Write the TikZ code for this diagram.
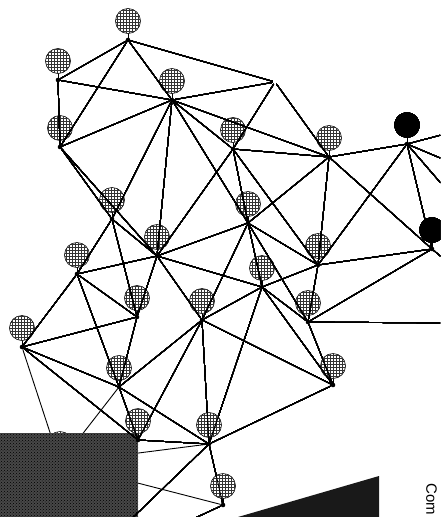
\documentclass[tikz,border=0pt]{standalone}
\usepackage{fontspec}
\setsansfont{Liberation Sans}
\usetikzlibrary{patterns}
\tikzset{
  mote/.style={circle,inner sep=0pt,minimum size=4.5pt},
  link/.style={line width=0.9pt},
  ball/.style={draw=black,line width=0.6pt,fill=white,postaction={pattern=grid,pattern color=black!80}},
  darkball/.style={draw=black,fill=black},
}
\newcommand{\balloon}[2][ball]{%
  \draw[line width=0.9pt] (#2.center) -- ([yshift=8pt]#2.center);
  \path[#1] ([yshift=19pt]#2.center) circle[radius=12.5pt];}

\begin{document}
\begin{tikzpicture}[x=1pt,y=-1pt]
  \useasboundingbox (0,0) rectangle (440,517);
  \clip (0,0) rectangle (440,517);
  % sensor positions
  \foreach \n/\x/\y in {a/128/40, b/58/80, c/172/100, d/60/147, p/275/82,
      e/233/149, f/329/157, g/407/144, m/112/219, h/248/223, n/157/256,
      i/318/265, j/432/249, o/77/274, k/262/287, q/137/317, s/202/320,
      l/308/322, r/22/347, t/119/387, x/333/385, u/138/440, v/209/444,
      w/223/505, y/60/463}
    \node[mote] (\n) at (\x,\y) {};
  % links leaving the frame
  \coordinate (g1) at (445,134);
  \coordinate (g2) at (445,160);
  \coordinate (g3) at (445,188);
  \coordinate (jr) at (445,260);
  \coordinate (lr) at (445,323);
  \coordinate (vb) at (122,528);
  \coordinate (wb) at (180,525);
  % hidden sensor behind the block
  \balloon{y}
  \foreach \a/\b in {y/r, y/t, y/w, y/v}
    \draw[link] (\a) -- (\b);
  \fill[black!72] (0,433) rectangle (138,517);
  \path[pattern=crosshatch dots,pattern color=black] (0,433) rectangle (138,517);
  \fill[black!90] (238,517) -- (379,476) -- (379,517) -- cycle;
  % balloons
  \foreach \n in {a,b,c,d,e,f,m,h,n,i,o,k,q,s,l,r,t,x,u,v,w}
    \balloon{\n}
  \balloon[darkball]{g}
  \balloon[darkball]{j}
  % links
  \foreach \a/\b in {a/b, a/d, a/c, a/p, b/c, b/d,
      c/d, c/p, c/f, c/m, c/n, c/h, c/e, d/m, d/n,
      p/e, p/f, e/f, e/h, e/n, e/i,
      f/g, f/h, f/i, f/j, g/j, g/i, g/g1, g/g2, g/g3,
      m/o, m/q, m/n, n/h, n/k, n/s, n/q, n/o,
      h/k, h/i, h/s, h/l, i/k, i/l, i/j,
      k/s, k/v, k/l, k/x, l/j, l/x, l/lr,
      o/r, o/t, o/q, q/r, q/t, r/t, r/u,
      t/u, t/s, t/v, s/v, s/u, s/x,
      v/x, v/u, v/w, v/vb, w/wb, j/jr}
    \draw[link] (\a) -- (\b);
  \foreach \n in {a,b,c,d,e,f,g,m,h,n,i,j,o,k,q,s,l,r,t,x,u,v,w}
    \fill (\n) circle[radius=2.3pt];
  \node[font=\sffamily\fontsize{15}{15}\selectfont,rotate=-90,anchor=north west,inner sep=0pt] (cap) at (437,483) {Com};
\end{tikzpicture}
\end{document}
